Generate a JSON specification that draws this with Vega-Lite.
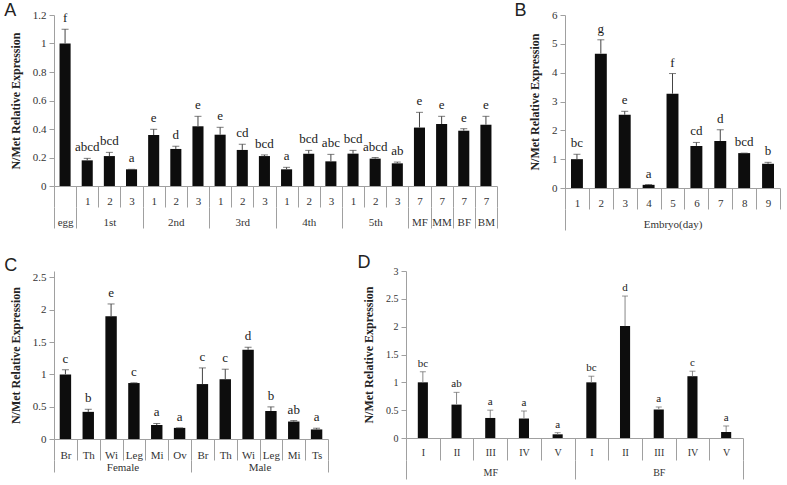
{
  "$schema": "https://vega.github.io/schema/vega-lite/v6.json",
  "padding": {"left": 4, "top": 2, "right": 0, "bottom": 0},
  "background": "white",
  "config": {
    "view": {"stroke": null},
    "font": "Liberation Serif",
    "axis": {"domainColor": "#a0a0a0", "tickColor": "#a0a0a0", "labelColor": "#333333", "labelFont": "Liberation Serif", "labelFontSize": 11, "grid": false, "titleFont": "Liberation Serif", "titleFontWeight": "bold", "titleColor": "#222222", "titleFontSize": 12, "labelOverlap": false},
    "axisY": {"labelFont": "Liberation Serif", "titleFont": "Liberation Serif", "labelOverlap": false, "tickCount": 7, "format": "~g", "tickSize": 5, "labelPadding": 3, "titlePadding": 10},
    "text": {"fill": "#1a1a1a", "font": "Liberation Serif"},
    "title": {"font": "Liberation Sans", "fontSize": 18, "fontWeight": "normal", "anchor": "start", "frame": "bounds", "color": "#222222"}
  },
  "vconcat": [
    {
      "spacing": 16,
      "hconcat": [
        {
          "width": 443, "height": 171,
          "title": {"text": "A", "dx": -5, "dy": 15},
          "data": {"values": [
            {"k": "egg|", "v": 1.0, "e": 1.10, "lab": "f"},
            {"k": "1st|1", "v": 0.18, "e": 0.194, "lab": "abcd"},
            {"k": "1st|2", "v": 0.21, "e": 0.236, "lab": "bcd"},
            {"k": "1st|3", "v": 0.117, "e": 0.117, "lab": "a"},
            {"k": "2nd|1", "v": 0.358, "e": 0.398, "lab": "e"},
            {"k": "2nd|2", "v": 0.26, "e": 0.279, "lab": "d"},
            {"k": "2nd|3", "v": 0.419, "e": 0.489, "lab": "e"},
            {"k": "3rd|1", "v": 0.36, "e": 0.412, "lab": "e"},
            {"k": "3rd|2", "v": 0.253, "e": 0.293, "lab": "cd"},
            {"k": "3rd|3", "v": 0.21, "e": 0.218, "lab": "bcd"},
            {"k": "4th|1", "v": 0.117, "e": 0.131, "lab": "a"},
            {"k": "4th|2", "v": 0.227, "e": 0.25, "lab": "bcd"},
            {"k": "4th|3", "v": 0.173, "e": 0.222, "lab": "abc"},
            {"k": "5th|1", "v": 0.227, "e": 0.25, "lab": "bcd"},
            {"k": "5th|2", "v": 0.192, "e": 0.20, "lab": "abcd"},
            {"k": "5th|3", "v": 0.159, "e": 0.168, "lab": "ab"},
            {"k": "MF|7", "v": 0.41, "e": 0.517, "lab": "e"},
            {"k": "MM|7", "v": 0.435, "e": 0.489, "lab": "e"},
            {"k": "BF|7", "v": 0.388, "e": 0.402, "lab": "e"},
            {"k": "BM|7", "v": 0.43, "e": 0.489, "lab": "e"}
          ]},
          "layer": [
            {
              "mark": {"type": "bar", "color": "#0d0d0d", "width": {"band": 0.5}},
              "encoding": {
                "x": {"field": "k", "type": "nominal", "sort": null, "scale": {"paddingInner": 0, "paddingOuter": 0},
                  "axis": {"orient": "bottom", "title": null, "tickBand": "extent", "tickSize": 21, "labelAngle": 0, "labelOverlap": false, "labelBaseline": "middle", "labelPadding": -6, "labelExpr": "datum.value ? split(datum.value, '|')[1] : ''"}},
                "y": {"field": "v", "type": "quantitative", "scale": {"domain": [0, 1.2]}, "axis": {"title": "N/Met  Relative Expression"}}
              }
            },
            {
              "mark": {"type": "rule", "color": "#444444"},
              "encoding": {"x": {"field": "k", "type": "nominal", "sort": null, "axis": null}, "y": {"field": "v", "type": "quantitative"}, "y2": {"field": "e"}}
            },
            {
              "mark": {"type": "tick", "color": "#444444", "size": 7, "thickness": 1},
              "encoding": {"x": {"field": "k", "type": "nominal", "sort": null, "axis": null}, "y": {"field": "e", "type": "quantitative"}}
            },
            {
              "mark": {"type": "text", "baseline": "bottom", "dy": -4, "fontSize": 13, "fill": "#1a1a1a", "font": "Liberation Serif"},
              "encoding": {
                "x": {"field": "k", "type": "nominal", "sort": null,
                  "axis": {"orient": "bottom", "title": null, "offset": 21, "domain": false, "tickBand": "extent", "tickSize": 21, "labelAngle": 0, "labelOverlap": false, "labelBaseline": "middle", "labelPadding": -6,
                    "tickOpacity": {"condition": {"test": "datum.index < 0 || indexof(['egg|','1st|3','2nd|3','3rd|3','4th|3','5th|3','MF|7','MM|7','BF|7','BM|7'], datum.value) >= 0", "value": 1}, "value": 0},
                    "labelExpr": "indexof(['egg|','1st|2','2nd|2','3rd|2','4th|2','5th|2','MF|7','MM|7','BF|7','BM|7'], datum.value) >= 0 ? split(datum.value, '|')[0] : ''"}},
                "y": {"field": "e", "type": "quantitative"},
                "text": {"field": "lab"}
              }
            }
          ],
          "resolve": {"axis": {"x": "independent"}}
        },
        {
          "width": 215, "height": 173,
          "title": {"text": "B", "dx": -14, "dy": 15},
          "data": {"values": [
            {"k": "Embryo(day)|1", "v": 1.0, "e": 1.17, "lab": "bc"},
            {"k": "Embryo(day)|2", "v": 4.66, "e": 5.14, "lab": "g"},
            {"k": "Embryo(day)|3", "v": 2.54, "e": 2.66, "lab": "e"},
            {"k": "Embryo(day)|4", "v": 0.11, "e": 0.12, "lab": "a"},
            {"k": "Embryo(day)|5", "v": 3.27, "e": 3.97, "lab": "f"},
            {"k": "Embryo(day)|6", "v": 1.46, "e": 1.58, "lab": "cd"},
            {"k": "Embryo(day)|7", "v": 1.63, "e": 2.02, "lab": "d"},
            {"k": "Embryo(day)|8", "v": 1.21, "e": 1.21, "lab": "bcd"},
            {"k": "Embryo(day)|9", "v": 0.84, "e": 0.89, "lab": "b"}
          ]},
          "layer": [
            {
              "mark": {"type": "bar", "color": "#0d0d0d", "width": {"band": 0.5}},
              "encoding": {
                "x": {"field": "k", "type": "nominal", "sort": null, "scale": {"paddingInner": 0, "paddingOuter": 0},
                  "axis": {"orient": "bottom", "title": null, "tickBand": "extent", "tickSize": 21, "labelAngle": 0, "labelOverlap": false, "labelBaseline": "middle", "labelPadding": -6, "labelExpr": "datum.value ? split(datum.value, '|')[1] : ''"}},
                "y": {"field": "v", "type": "quantitative", "scale": {"domain": [0, 6]}, "axis": {"title": "N/Met  Relative Expression"}}
              }
            },
            {
              "mark": {"type": "rule", "color": "#444444"},
              "encoding": {"x": {"field": "k", "type": "nominal", "sort": null, "axis": null}, "y": {"field": "v", "type": "quantitative"}, "y2": {"field": "e"}}
            },
            {
              "mark": {"type": "tick", "color": "#444444", "size": 7, "thickness": 1},
              "encoding": {"x": {"field": "k", "type": "nominal", "sort": null, "axis": null}, "y": {"field": "e", "type": "quantitative"}}
            },
            {
              "mark": {"type": "text", "baseline": "bottom", "dy": -4, "fontSize": 13, "fill": "#1a1a1a", "font": "Liberation Serif"},
              "encoding": {
                "x": {"field": "k", "type": "nominal", "sort": null,
                  "axis": {"orient": "bottom", "title": null, "offset": 21, "domain": false, "tickBand": "extent", "tickSize": 21, "labelAngle": 0, "labelOverlap": false, "labelBaseline": "middle", "labelPadding": -6,
                    "tickOpacity": {"condition": {"test": "datum.index < 0", "value": 1}, "value": 0},
                    "labelExpr": "datum.value == 'Embryo(day)|5' ? 'Embryo(day)' : ''"}},
                "y": {"field": "e", "type": "quantitative"},
                "text": {"field": "lab"}
              }
            }
          ],
          "resolve": {"axis": {"x": "independent"}}
        }
      ]
    },
    {
      "spacing": 28,
      "hconcat": [
        {
          "width": 274, "height": 168,
          "title": {"text": "C", "dx": -5, "dy": 8},
          "data": {"values": [
            {"k": "Female|Br", "v": 1.0, "e": 1.07, "lab": "c"},
            {"k": "Female|Th", "v": 0.42, "e": 0.46, "lab": "b"},
            {"k": "Female|Wi", "v": 1.90, "e": 2.09, "lab": "e"},
            {"k": "Female|Leg", "v": 0.866, "e": 0.87, "lab": "c"},
            {"k": "Female|Mi", "v": 0.217, "e": 0.24, "lab": "a"},
            {"k": "Female|Ov", "v": 0.172, "e": 0.172, "lab": "a"},
            {"k": "Male|Br", "v": 0.85, "e": 1.10, "lab": "c"},
            {"k": "Male|Th", "v": 0.925, "e": 1.08, "lab": "c"},
            {"k": "Male|Wi", "v": 1.38, "e": 1.42, "lab": "d"},
            {"k": "Male|Leg", "v": 0.433, "e": 0.497, "lab": "b"},
            {"k": "Male|Mi", "v": 0.27, "e": 0.285, "lab": "ab"},
            {"k": "Male|Ts", "v": 0.148, "e": 0.167, "lab": "a"}
          ]},
          "layer": [
            {
              "mark": {"type": "bar", "color": "#0d0d0d", "width": {"band": 0.5}},
              "encoding": {
                "x": {"field": "k", "type": "nominal", "sort": null, "scale": {"paddingInner": 0, "paddingOuter": 0},
                  "axis": {"orient": "bottom", "title": null, "tickBand": "extent", "tickSize": 21, "labelAngle": 0, "labelOverlap": false, "labelBaseline": "middle", "labelPadding": -5, "labelExpr": "datum.value ? split(datum.value, '|')[1] : ''"}},
                "y": {"field": "v", "type": "quantitative", "scale": {"domain": [0, 2.5]}, "axis": {"title": "N/Met  Relative Expression"}}
              }
            },
            {
              "mark": {"type": "rule", "color": "#444444"},
              "encoding": {"x": {"field": "k", "type": "nominal", "sort": null, "axis": null}, "y": {"field": "v", "type": "quantitative"}, "y2": {"field": "e"}}
            },
            {
              "mark": {"type": "tick", "color": "#444444", "size": 7, "thickness": 1},
              "encoding": {"x": {"field": "k", "type": "nominal", "sort": null, "axis": null}, "y": {"field": "e", "type": "quantitative"}}
            },
            {
              "mark": {"type": "text", "baseline": "bottom", "dy": -4, "fontSize": 13, "fill": "#1a1a1a", "font": "Liberation Serif"},
              "encoding": {
                "x": {"field": "k", "type": "nominal", "sort": null,
                  "axis": {"orient": "bottom", "title": null, "offset": 21, "domain": false, "tickBand": "extent", "tickSize": 12, "labelAngle": 0, "labelOverlap": false, "labelBaseline": "middle", "labelPadding": -5, "labelOffset": 11.4,
                    "tickOpacity": {"condition": {"test": "datum.index < 0 || indexof(['Female|Ov','Male|Ts'], datum.value) >= 0", "value": 1}, "value": 0},
                    "labelExpr": "datum.value == 'Female|Wi' ? 'Female' : datum.value == 'Male|Wi' ? 'Male' : ''"}},
                "y": {"field": "e", "type": "quantitative"},
                "text": {"field": "lab"}
              }
            }
          ],
          "resolve": {"axis": {"x": "independent"}}
        },
        {
          "width": 337, "height": 167,
          "title": {"text": "D", "dx": -5, "dy": 10},
          "data": {"values": [
            {"k": "MF|I", "v": 1.0, "e": 1.19, "lab": "bc"},
            {"k": "MF|II", "v": 0.60, "e": 0.82, "lab": "ab"},
            {"k": "MF|III", "v": 0.36, "e": 0.50, "lab": "a"},
            {"k": "MF|IV", "v": 0.35, "e": 0.485, "lab": "a"},
            {"k": "MF|V", "v": 0.066, "e": 0.096, "lab": "a"},
            {"k": "BF|I", "v": 1.0, "e": 1.11, "lab": "bc"},
            {"k": "BF|II", "v": 2.01, "e": 2.55, "lab": "d"},
            {"k": "BF|III", "v": 0.51, "e": 0.557, "lab": "a"},
            {"k": "BF|IV", "v": 1.11, "e": 1.20, "lab": "c"},
            {"k": "BF|V", "v": 0.108, "e": 0.216, "lab": "a"}
          ]},
          "layer": [
            {
              "mark": {"type": "bar", "color": "#0d0d0d", "width": {"band": 0.3}},
              "encoding": {
                "x": {"field": "k", "type": "nominal", "sort": null, "scale": {"paddingInner": 0, "paddingOuter": 0},
                  "axis": {"orient": "bottom", "title": null, "tickBand": "extent", "tickSize": 22, "labelAngle": 0, "labelOverlap": false, "labelFontSize": 10, "labelBaseline": "middle", "labelPadding": -8, "labelExpr": "datum.value ? split(datum.value, '|')[1] : ''"}},
                "y": {"field": "v", "type": "quantitative", "scale": {"domain": [0, 3]}, "axis": {"title": "N/Met  Relative Expression", "labelFontSize": 10}}
              }
            },
            {
              "mark": {"type": "rule", "color": "#888888"},
              "encoding": {"x": {"field": "k", "type": "nominal", "sort": null, "axis": null}, "y": {"field": "v", "type": "quantitative"}, "y2": {"field": "e"}}
            },
            {
              "mark": {"type": "tick", "color": "#666666", "size": 6, "thickness": 1},
              "encoding": {"x": {"field": "k", "type": "nominal", "sort": null, "axis": null}, "y": {"field": "e", "type": "quantitative"}}
            },
            {
              "mark": {"type": "text", "baseline": "bottom", "dy": -3, "fontSize": 11, "fill": "#1a1a1a", "font": "Liberation Serif"},
              "encoding": {
                "x": {"field": "k", "type": "nominal", "sort": null,
                  "axis": {"orient": "bottom", "title": null, "offset": 22, "domain": false, "tickBand": "extent", "tickSize": 19, "labelAngle": 0, "labelOverlap": false, "labelFontSize": 10, "labelBaseline": "middle", "labelPadding": -7,
                    "tickOpacity": {"condition": {"test": "datum.index < 0 || indexof(['MF|V','BF|V'], datum.value) >= 0", "value": 1}, "value": 0},
                    "labelExpr": "datum.value == 'MF|III' ? 'MF' : datum.value == 'BF|III' ? 'BF' : ''"}},
                "y": {"field": "e", "type": "quantitative"},
                "text": {"field": "lab"}
              }
            }
          ],
          "resolve": {"axis": {"x": "independent"}}
        }
      ]
    }
  ],
  "spacing": 23
}
